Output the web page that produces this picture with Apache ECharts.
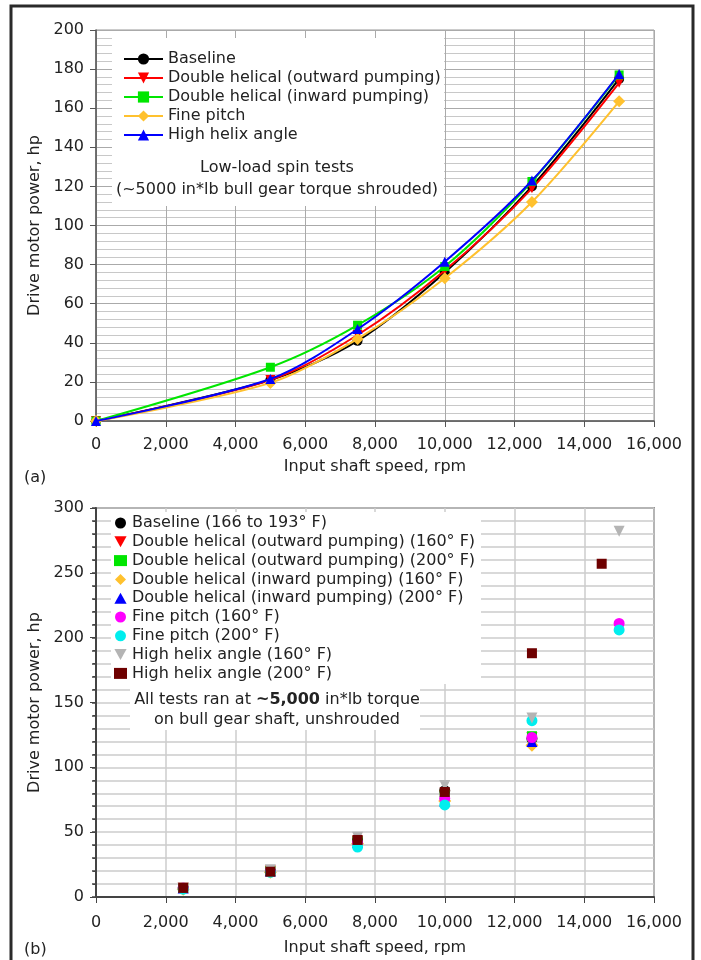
<!DOCTYPE html>
<html><head><meta charset="utf-8">
<script src="https://cdn.jsdelivr.net/npm/echarts@6/dist/echarts.min.js"></script>
<style>html,body{margin:0;padding:0;background:#fff}#c{width:701px;height:960px}</style>
</head><body><div id="c"></div>
<script>
// ---- Chart (a) data ----
const speedA = [0, 5000, 7500, 10000, 12500, 15000];
const baselineA = [0, 21, 41, 76, 120, 175];
const outwardA = [0, 21, 44, 77, 119, 173];
const inwardA = [0, 27.5, 49, 79, 122.5, 177];
const finePitchA = [0, 19.5, 42, 73, 112, 163.5];
const highHelixA = [0, 21.5, 47, 81.5, 123, 177.5];
const namesA = ['Baseline', 'Double helical (outward pumping)', 'Double helical (inward pumping)', 'Fine pitch', 'High helix angle'];

// ---- Chart (b) data ----
const speedB = [2500, 5000, 7500, 10000, 12500];
const speedB6 = [2500, 5000, 7500, 10000, 12500, 15000];
const speedBHH200 = [2500, 5000, 7500, 10000, 12500, 14500];
const baselineB = [7, 20, 44, 82, 122];
const outward160B = [7, 20, 43, 78, 123];
const outward200B = [7, 20, 43, 79, 124];
const inward160B = [6, 19, 41, 74, 117];
const inward200B = [7, 20, 42, 74, 120];
const fine160B = [7, 20, 42, 76, 123, 211];
const fine200B = [6, 19, 38.5, 71, 136, 206];
const helix160B = [7, 21, 46, 86, 138, 282];
const helix200B = [7, 19.5, 44, 81, 188, 257];
const namesB = ['Baseline (166 to 193° F)', 'Double helical (outward pumping) (160° F)', 'Double helical (outward pumping) (200° F)',
  'Double helical (inward pumping) (160° F)', 'Double helical (inward pumping) (200° F)', 'Fine pitch (160° F)',
  'Fine pitch (200° F)', 'High helix angle (160° F)', 'High helix angle (200° F)'];

const FONT = '"DejaVu Sans", Arial, sans-serif';
const FS = 16;
const zip = (xs, ys) => ys.map((y, i) => [xs[i], y]);
const DOWN = 'path://M0,0 L10,0 L5,9 Z';
const UP = 'path://M5,0 L10,9 L0,9 Z';
const DIAMOND = 'path://M5,0 L10,5 L5,10 L0,5 Z';

const colorsA = ['#000000', '#ff0000', '#00e600', '#ffc12e', '#0000ff'];
const symbolsA = ['circle', DOWN, 'rect', DIAMOND, UP];
const sizeA = [10, 10, 9, 12, 10];
const dataA = [baselineA, outwardA, inwardA, finePitchA, highHelixA];

const colorsB = ['#000000', '#ff0000', '#00e600', '#ffc12e', '#0000ff', '#ff00ff', '#00eeee', '#b4b4b4', '#6e0000'];
const symbolsB = ['circle', DOWN, 'rect', DIAMOND, UP, 'circle', 'circle', DOWN, 'rect'];
const sizeB = [11, 11, 10, 13, 11, 11, 11, 11, 10];
const dataB = [zip(speedB, baselineB), zip(speedB, outward160B), zip(speedB, outward200B), zip(speedB, inward160B),
  zip(speedB, inward200B), zip(speedB6, fine160B), zip(speedB6, fine200B), zip(speedB6, helix160B), zip(speedBHH200, helix200B)];

const seriesA = dataA.map((d, i) => ({
  name: namesA[i], type: 'line', xAxisIndex: 0, yAxisIndex: 0,
  data: zip(speedA, d), smooth: 0.3,
  symbol: symbolsA[i], symbolSize: sizeA[i],
  lineStyle: { color: colorsA[i], width: 2 }, itemStyle: { color: colorsA[i] },
  z: 2 + i
}));
const seriesB = dataB.map((d, i) => ({
  name: namesB[i], type: 'scatter', xAxisIndex: 1, yAxisIndex: 1,
  data: d, symbol: symbolsB[i], symbolSize: sizeB[i],
  itemStyle: { color: colorsB[i], opacity: 1 }, z: 2 + i
}));

const axisLabel = { fontFamily: FONT, fontSize: FS, color: '#222' };
const nameStyle = { fontFamily: FONT, fontSize: FS, color: '#222' };

const chart = echarts.init(document.getElementById('c'), null, { renderer: 'canvas' });
chart.setOption({
  animation: false,
  backgroundColor: '#fff',
  grid: [
    { left: 96, top: 30, width: 558, height: 391, show: true, borderColor: '#999', borderWidth: 1, backgroundColor: 'transparent' },
    { left: 96, top: 508, width: 558, height: 389, show: true, borderColor: '#444', borderWidth: 1.5, backgroundColor: 'transparent' }
  ],
  xAxis: [
    { type: 'value', gridIndex: 0, min: 0, max: 16000, interval: 2000,
      name: 'Input shaft speed, rpm', nameLocation: 'middle', nameGap: 38, nameTextStyle: nameStyle,
      axisLine: { show: true, onZero: false, lineStyle: { color: '#555', width: 1.5 } },
      axisTick: { show: true, length: 6, lineStyle: { color: '#555' } },
      axisLabel: Object.assign({ margin: 16 }, axisLabel),
      splitLine: { show: true, lineStyle: { color: '#aaa', width: 1 } } },
    { type: 'value', gridIndex: 1, min: 0, max: 16000, interval: 2000,
      name: 'Input shaft speed, rpm', nameLocation: 'middle', nameGap: 43, nameTextStyle: nameStyle,
      axisLine: { show: true, onZero: false, lineStyle: { color: '#444', width: 2 } },
      axisTick: { show: true, length: 6, lineStyle: { color: '#444' } },
      axisLabel: Object.assign({ margin: 18 }, axisLabel),
      splitLine: { show: true, lineStyle: { color: '#ccc', width: 1.5 } } }
  ],
  yAxis: [
    { type: 'value', gridIndex: 0, min: 0, max: 200, interval: 20,
      name: 'Drive motor power, hp', nameLocation: 'middle', nameGap: 52, nameTextStyle: nameStyle,
      axisLine: { show: true, onZero: false, lineStyle: { color: '#555', width: 1.5 } },
      axisTick: { show: true, length: 6, lineStyle: { color: '#555' } },
      axisLabel: Object.assign({ margin: 12 }, axisLabel),
      splitLine: { show: true, lineStyle: { color: '#aaa', width: 1 } },
      minorTick: { show: false, splitNumber: 5 },
      minorSplitLine: { show: true, lineStyle: { color: '#c8c8c8', width: 1 } } },
    { type: 'value', gridIndex: 1, min: 0, max: 300, interval: 50,
      name: 'Drive motor power, hp', nameLocation: 'middle', nameGap: 52, nameTextStyle: nameStyle,
      axisLine: { show: true, onZero: false, lineStyle: { color: '#444', width: 2 } },
      axisTick: { show: true, length: 6, lineStyle: { color: '#444' } },
      axisLabel: Object.assign({ margin: 12 }, axisLabel),
      splitLine: { show: true, lineStyle: { color: '#ccc', width: 1.5 } },
      minorTick: { show: true, splitNumber: 5, length: 3, lineStyle: { color: '#444' } },
      minorSplitLine: { show: true, lineStyle: { color: '#ccc', width: 1.5 } } },
    { type: 'value', gridIndex: 1, min: 0, max: 300, interval: 10, position: 'right',
      axisLine: { show: false }, axisLabel: { show: false }, splitLine: { show: false },
      axisTick: { show: true, inside: true, length: 4, lineStyle: { color: '#444', width: 1.5 } } }
  ],
  legend: [
    { data: namesA, orient: 'vertical', left: 112, top: 38, padding: [13, 6, 8, 11],
      itemWidth: 39, itemHeight: 14, itemGap: 3, selectedMode: false,
      textStyle: { fontFamily: FONT, fontSize: FS, color: '#222' } },
    { data: namesB, orient: 'vertical', left: 108, top: 510, padding: [5, 6, 4, 6],
      itemWidth: 13, itemHeight: 11, itemGap: 2.8, selectedMode: false,
      textStyle: { fontFamily: FONT, fontSize: FS, color: '#222' } }
  ],
  graphic: [
    { type: 'rect', z: 1, shape: { x: 112, y: 38, width: 332, height: 168 }, style: { fill: '#fff' } },
    { type: 'rect', z: 1, shape: { x: 111, y: 512, width: 370, height: 172 }, style: { fill: '#fff' } },
    { type: 'rect', z: 1, shape: { x: 130, y: 684, width: 290, height: 46 }, style: { fill: '#fff' } },
    { type: 'text', z: 5, style: { text: 'Low-load spin tests', x: 277, y: 168, textAlign: 'center', textVerticalAlign: 'middle', font: FS + 'px ' + FONT, fill: '#222' } },
    { type: 'text', z: 5, style: { text: '(~5000 in*lb bull gear torque shrouded)', x: 277, y: 190, textAlign: 'center', textVerticalAlign: 'middle', font: FS + 'px ' + FONT, fill: '#222' } },
    { type: 'text', z: 5, style: { text: '{n|All tests ran at }{b|~5,000}{n| in*lb torque}', x: 277, y: 700, textAlign: 'center', textVerticalAlign: 'middle',
      rich: { n: { fontFamily: FONT, fontSize: FS, fill: '#222' }, b: { fontFamily: FONT, fontSize: FS, fontWeight: 'bold', fill: '#222' } } } },
    { type: 'text', z: 5, style: { text: 'on bull gear shaft, unshrouded', x: 277, y: 720, textAlign: 'center', textVerticalAlign: 'middle', font: FS + 'px ' + FONT, fill: '#222' } },
    { type: 'text', z: 5, style: { text: '(a)', x: 24, y: 478, textVerticalAlign: 'middle', font: FS + 'px ' + FONT, fill: '#222' } },
    { type: 'text', z: 5, style: { text: '(b)', x: 24, y: 950, textVerticalAlign: 'middle', font: FS + 'px ' + FONT, fill: '#222' } },
    { type: 'rect', z: 10, shape: { x: 11, y: 6, width: 682, height: 970 }, style: { fill: 'none', stroke: '#2a2a2a', lineWidth: 3 } }
  ],
  series: seriesA.concat(seriesB)
});
</script></body></html>
